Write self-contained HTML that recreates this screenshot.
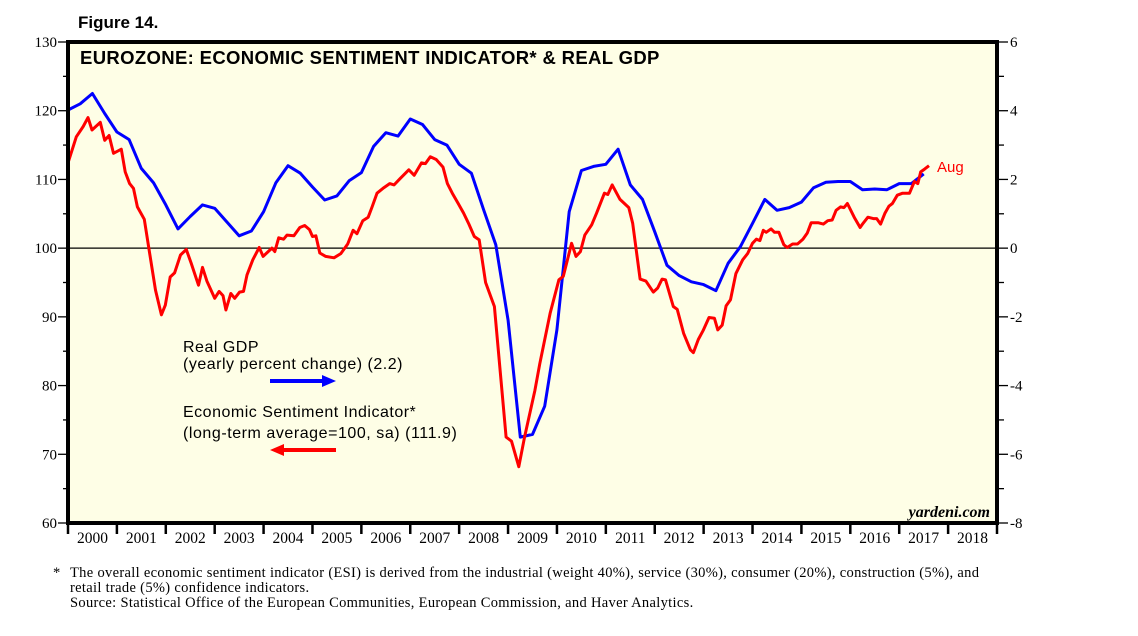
<!DOCTYPE html>
<html><head><meta charset="utf-8"><style>
body{margin:0;background:#fff;width:1138px;height:636px;overflow:hidden}
svg{display:block}
.sans{font-family:"Liberation Sans",Arial,sans-serif}
.serif{font-family:"Liberation Serif","Times New Roman",serif}
</style></head><body>
<svg id="chart" width="1138" height="636">
<text x="78" y="28" class="sans" font-size="17" font-weight="bold">Figure 14.</text>
<rect x="68" y="42" width="929" height="481" fill="#fefee6"/>
<g id="grid"></g>
<g id="series"></g>
<rect x="68" y="42" width="929" height="481" fill="none" stroke="#000" stroke-width="4"/>
<g id="axes"></g>
<text x="80" y="64" class="sans" font-size="18.5" font-weight="bold" letter-spacing="0.35">EUROZONE: ECONOMIC SENTIMENT INDICATOR* &amp; REAL GDP</text>
<text x="183" y="352" class="sans" font-size="16" letter-spacing="0.5">Real GDP</text>
<text x="183" y="369" class="sans" font-size="16" letter-spacing="0.5">(yearly percent change) (2.2)</text>
<line x1="270" y1="381" x2="324" y2="381" stroke="#0000ff" stroke-width="4"/>
<polygon points="336,381 322,375 322,387" fill="#0000ff"/>
<text x="183" y="417" class="sans" font-size="16" letter-spacing="0.5">Economic Sentiment Indicator*</text>
<text x="183" y="438" class="sans" font-size="16" letter-spacing="0.55">(long-term average=100, sa) (111.9)</text>
<line x1="282" y1="450" x2="336" y2="450" stroke="#ff0000" stroke-width="4"/>
<polygon points="270,450 284,444 284,456" fill="#ff0000"/>
<text x="937" y="172" class="sans" font-size="15" fill="#ff0000">Aug</text>
<text x="990" y="517" text-anchor="end" class="serif" font-size="16" font-style="italic" font-weight="bold">yardeni.com</text>
<text x="53" y="577" class="serif" font-size="14.5">*</text>
<text x="70" y="577" class="serif" font-size="14.5" letter-spacing="0.32">The overall economic sentiment indicator (ESI) is derived from the industrial (weight 40%), service (30%), consumer (20%), construction (5%), and</text>
<text x="70" y="592" class="serif" font-size="14.5" letter-spacing="0.32">retail trade (5%) confidence indicators.</text>
<text x="70" y="607" class="serif" font-size="14.5" letter-spacing="0.32">Source: Statistical Office of the European Communities, European Commission, and Haver Analytics.</text>
</svg>
<script>
const years=[2000,2001,2002,2003,2004,2005,2006,2007,2008,2009,2010,2011,2012,2013,2014,2015,2016,2017,2018];
const leftTicks=[60,70,80,90,100,110,120,130];
const rightTicks=[-8,-6,-4,-2,0,2,4,6];
const gdpStart=2000.0;
const gdpValues=[4.02,4.2,4.5,3.92,3.38,3.16,2.32,1.9,1.26,0.56,0.92,1.26,1.16,0.76,0.36,0.5,1.06,1.9,2.4,2.18,1.78,1.4,1.52,1.96,2.2,2.96,3.36,3.26,3.76,3.6,3.16,3.0,2.44,2.18,1.12,0.1,-2.1,-5.5,-5.42,-4.6,-2.38,1.06,2.26,2.38,2.44,2.88,1.84,1.42,0.48,-0.5,-0.8,-0.98,-1.06,-1.24,-0.44,0.04,0.72,1.42,1.1,1.18,1.34,1.76,1.92,1.94,1.94,1.7,1.72,1.7,1.88,1.88,2.16];
const esiDates=[2000.0,2000.17,2000.31,2000.41,2000.49,2000.66,2000.75,2000.84,2000.93,2001.09,2001.17,2001.26,2001.34,2001.42,2001.56,2001.67,2001.79,2001.91,2001.99,2002.09,2002.18,2002.3,2002.42,2002.52,2002.67,2002.75,2002.84,2003.0,2003.09,2003.17,2003.23,2003.33,2003.41,2003.51,2003.59,2003.66,2003.78,2003.91,2003.99,2004.17,2004.23,2004.31,2004.41,2004.48,2004.62,2004.74,2004.84,2004.94,2005.0,2005.07,2005.15,2005.27,2005.44,2005.58,2005.72,2005.83,2005.91,2006.03,2006.14,2006.22,2006.32,2006.44,2006.58,2006.67,2006.79,2006.97,2007.08,2007.23,2007.31,2007.41,2007.53,2007.67,2007.76,2007.86,2007.98,2008.09,2008.2,2008.31,2008.41,2008.54,2008.72,2008.96,2009.07,2009.22,2009.34,2009.55,2009.65,2009.86,2010.04,2010.13,2010.3,2010.39,2010.48,2010.57,2010.71,2010.81,2010.97,2011.04,2011.13,2011.29,2011.47,2011.55,2011.7,2011.82,2011.97,2012.06,2012.15,2012.22,2012.38,2012.46,2012.59,2012.73,2012.79,2012.89,2012.99,2013.11,2013.22,2013.29,2013.38,2013.46,2013.55,2013.66,2013.8,2013.9,2014.0,2014.08,2014.15,2014.22,2014.28,2014.38,2014.45,2014.54,2014.64,2014.71,2014.82,2014.92,2015.03,2015.12,2015.2,2015.34,2015.45,2015.54,2015.63,2015.71,2015.8,2015.87,2015.94,2016.08,2016.2,2016.26,2016.36,2016.47,2016.54,2016.62,2016.71,2016.79,2016.86,2016.96,2017.07,2017.21,2017.31,2017.38,2017.44,2017.52,2017.61];
const esiValues=[112.4,116.2,117.7,119.0,117.2,118.3,115.7,116.4,113.8,114.4,111.1,109.4,108.7,106.0,104.2,99.2,93.9,90.3,91.7,95.8,96.4,99.0,99.8,97.8,94.6,97.2,95.2,92.7,93.7,93.1,91.0,93.4,92.7,93.6,93.7,96.1,98.3,100.1,98.8,100.0,99.5,101.5,101.3,101.9,101.8,103.0,103.3,102.7,101.7,101.8,99.3,98.8,98.6,99.2,100.6,102.6,102.1,104.0,104.5,106.0,108.0,108.7,109.4,109.2,110.1,111.4,110.6,112.4,112.3,113.3,112.9,111.8,109.4,108.0,106.5,105.1,103.5,101.7,101.2,95.0,91.5,72.5,71.9,68.2,72.6,79.3,83.2,90.5,95.4,95.9,100.7,98.8,99.5,101.9,103.4,105.1,108.0,107.8,109.2,107.1,105.9,103.6,95.5,95.2,93.6,94.2,95.5,95.4,91.5,91.1,87.6,85.2,84.8,86.7,88.0,89.9,89.8,88.1,88.8,91.6,92.5,96.3,98.3,99.2,100.7,101.3,101.1,102.6,102.3,102.8,102.3,102.3,100.5,100.1,100.6,100.6,101.3,102.2,103.7,103.7,103.5,104.0,104.1,105.5,106.0,105.9,106.5,104.5,103.0,103.6,104.5,104.3,104.3,103.5,105.1,106.1,106.5,107.7,108.0,108.0,109.7,109.4,111.1,111.5,112.0];

const X0=68,X1=997,Y0=42,Y1=523;
const tMin=2000,tMax=2019;
const xs=t=>X0+(t-tMin)/(tMax-tMin)*(X1-X0);
const yL=v=>Y1-(v-60)/(130-60)*(Y1-Y0);
const yR=v=>Y1-(v+8)/(6+8)*(Y1-Y0);
const NS='http://www.w3.org/2000/svg';
function mk(tag,attrs,parent){const e=document.createElementNS(NS,tag);for(const k in attrs)e.setAttribute(k,attrs[k]);parent.appendChild(e);return e;}
const grid=document.getElementById('grid'),axes=document.getElementById('axes'),ser=document.getElementById('series');

let zl=mk('line',{x1:X0,x2:X1,y1:yL(100),y2:yL(100),stroke:'#000','stroke-width':1.3},grid);



for(let v=60;v<=130;v+=5){
  const major=leftTicks.includes(v);
  const t=mk('line',{x1:major?58:63,x2:X0,y1:yL(v),y2:yL(v),stroke:'#000','stroke-width':1.3},axes);
  
  
}
leftTicks.forEach(v=>{
  const t=mk('text',{x:57,y:yL(v)+5,'text-anchor':'end','font-size':15,class:'serif'},axes);
  t.textContent=v;
  
  
});
for(let v=-8;v<=6;v+=1){
  const major=rightTicks.includes(v);
  const t=mk('line',{x1:X1,x2:major?1008:1004,y1:yR(v),y2:yR(v),stroke:'#000','stroke-width':1.3},axes);
  
  
}
rightTicks.forEach(v=>{
  const t=mk('text',{x:1010,y:yR(v)+5,'font-size':15,class:'serif'},axes);
  t.textContent=v;
  
  
});
years.forEach(yr=>{
  const tk=mk('line',{x1:xs(yr),x2:xs(yr),y1:Y1,y2:Y1+11,stroke:'#000','stroke-width':2.5},axes);
  
  
  const t=mk('text',{x:xs(yr+0.5),y:543,'text-anchor':'middle','font-size':15.5,class:'serif'},axes);
  t.textContent=yr;
  
  
});
const xe=mk('line',{x1:X1,x2:X1,y1:Y1,y2:Y1+11,stroke:'#000','stroke-width':2.5},axes);



const gdpPts=gdpValues.map((v,i)=>xs(gdpStart+i*0.25).toFixed(1)+','+yR(v).toFixed(1)).join(' ');
const g=mk('polyline',{points:gdpPts,fill:'none',stroke:'#0000ff','stroke-width':3,'stroke-linejoin':'round'},ser);


const esiPts=esiValues.map((v,i)=>xs(esiDates[i]).toFixed(1)+','+yL(v).toFixed(1)).join(' ');
const r=mk('polyline',{points:esiPts,fill:'none',stroke:'#ff0000','stroke-width':3,'stroke-linejoin':'round'},ser);


</script>
</body></html>
